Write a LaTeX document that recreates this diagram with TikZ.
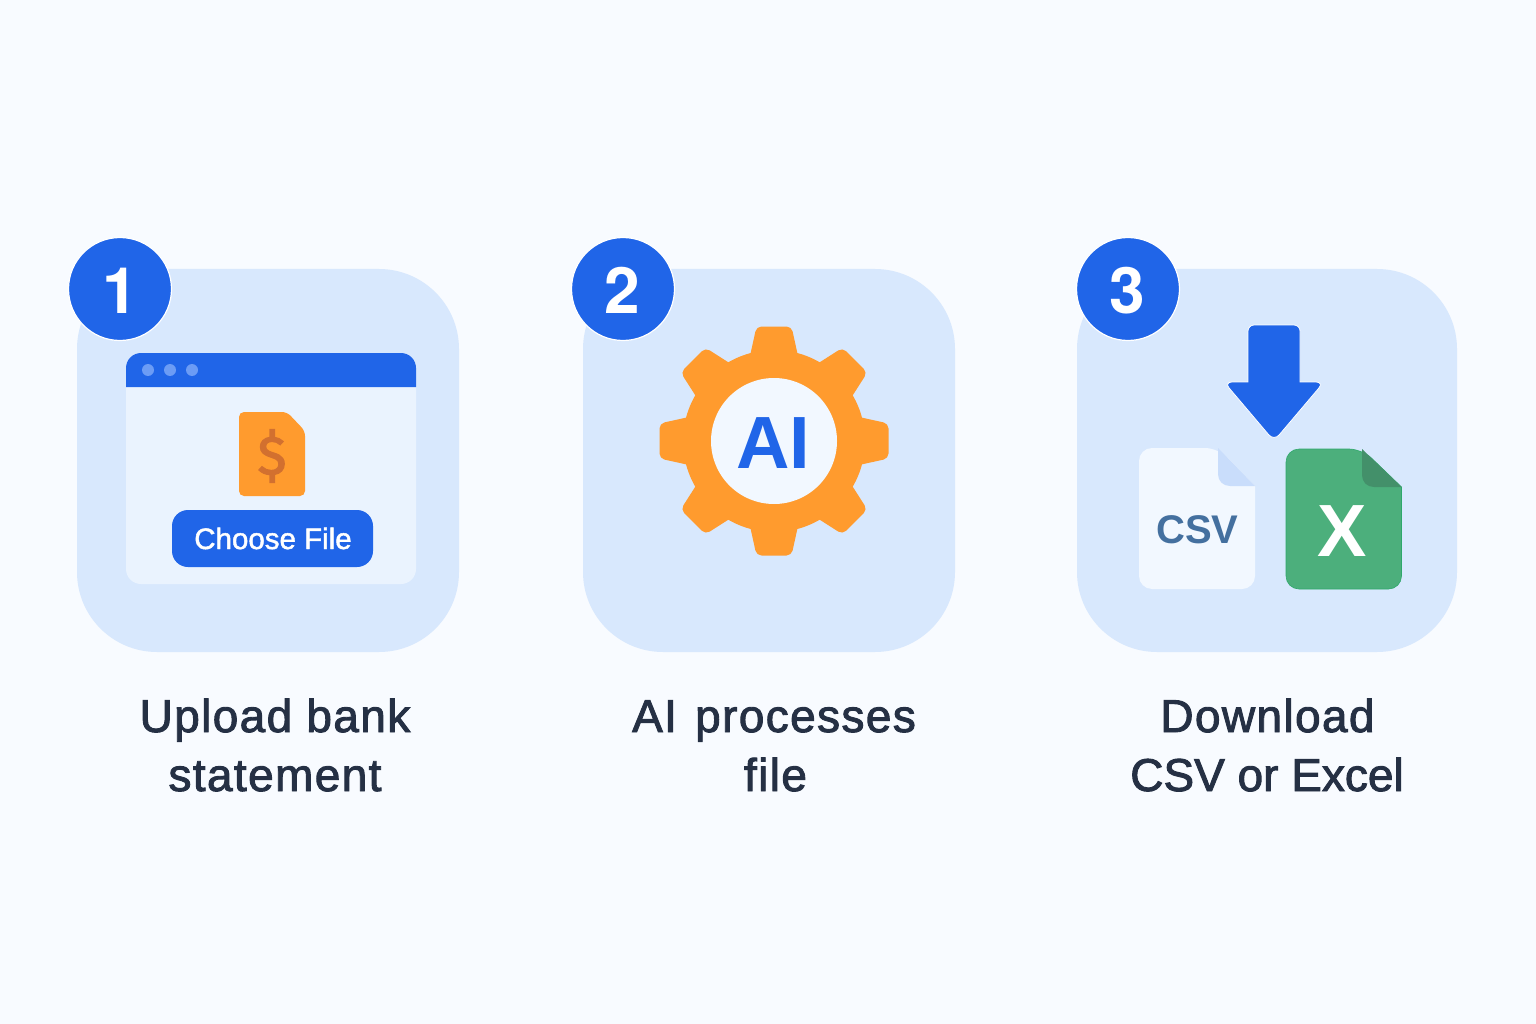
\documentclass[tikz,border=0pt]{standalone}
\usepackage{fontspec}
\setmainfont{Liberation Sans}
\newfontfamily\capfont[FakeBold=2,LetterSpace=3]{Liberation Sans}
\newfontfamily\capfontb[FakeBold=2]{Liberation Sans}
\newfontfamily\btnfont[FakeBold=1.6]{Liberation Sans}
\newfontfamily\numfont{TeX Gyre Heros}
\newfontfamily\dollarfont[FakeBold=2.5]{Fira Sans}
\definecolor{bgc}{HTML}{F8FBFF}
\definecolor{panelc}{HTML}{D8E8FD}
\definecolor{blue1}{HTML}{2065E8}
\definecolor{winc}{HTML}{EAF3FE}
\definecolor{dotc}{HTML}{6C9CF5}
\definecolor{orangec}{HTML}{FF9B2E}
\definecolor{dollarc}{HTML}{D2702F}
\definecolor{inkc}{HTML}{253044}
\definecolor{paperc}{HTML}{F2F8FF}
\definecolor{foldc}{HTML}{C9DDFB}
\definecolor{csvc}{HTML}{44709F}
\definecolor{greenc}{HTML}{4CAF7C}
\definecolor{greenl}{HTML}{2FA86B}
\definecolor{foldg}{HTML}{43906A}
\newcommand{\fs}[1]{\fontsize{#1}{#1}\selectfont}
\tikzset{
  panel/.style={fill=panelc,rounded corners=80},
  badge/.style={circle,fill=blue1,draw=white,line width=1.2,minimum size=103,inner sep=0},
  badgetxt/.style={text=white,font=\numfont\fs{64}\bfseries,anchor=base,inner sep=0},
  caption/.style={text=inkc,font=\capfont\fs{46},anchor=base,inner sep=0},
  captionb/.style={text=inkc,font=\capfontb\fs{46},anchor=base,inner sep=0},
  gearpart/.style={fill=orangec},
}
\begin{document}
\begin{tikzpicture}[x=1pt,y=-1pt]
\useasboundingbox (0,0) rectangle (1536,1024);
\fill[bgc] (0,0) rectangle (1536,1024);
% panels
\fill[panel] (77,269) rectangle (459,652);
\fill[panel] (583,269) rectangle (955,652);
\fill[panel] (1077,269) rectangle (1457,652);
% window
\fill[winc,rounded corners=15] (126,353) rectangle (416,584);
\fill[blue1] (126,387) -- (126,368) [rounded corners=15] -- (126,353) -- (416,353) [sharp corners] -- (416,368) -- (416,387) -- cycle;
\foreach \x in {148,170,192} \fill[dotc] (\x,370) circle[radius=6];
% statement document
\fill[orangec,rounded corners=5] (239,412) -- (287,412) -- (305,431) -- (305,496) -- (239,496) -- cycle;
\node[text=dollarc,font=\dollarfont\fs{54},anchor=base,inner sep=0] (dollar) at (272,474) {\$};
% button
\fill[blue1,rounded corners=16] (172,510) rectangle (373,567);
\node[text=white,font=\btnfont\fs{29.5},anchor=base,inner sep=0] (choose) at (273,549) {Choose File};
% gear
\begin{scope}[shift={(774,441)}]
  \fill[gearpart] (0,0) circle[radius=91];
  \foreach \a in {0,45,...,315}
    \fill[gearpart,rotate=\a,rounded corners=5] (-26.2,-75) -- (-17.5,-114.5) -- (17.5,-114.5) -- (26.2,-75) -- cycle;
  \fill[paperc] (0,0) circle[radius=63];
\end{scope}
\node[text=blue1,font=\fs{74}\bfseries,anchor=base,inner sep=0] (ai) at (773,468) {AI};
% arrow
\fill[blue1,draw=white,line width=0.8,rounded corners=6] (1248,340) -- (1248,325) -- (1300,325) -- (1300,370) [sharp corners] -- (1300,382) [rounded corners=8] -- (1324,382) -- (1274,441) -- (1224,382) [sharp corners] -- (1248,382) -- cycle;
% csv document
\fill[paperc,rounded corners=13] (1139,448) -- (1218,448) [sharp corners] -- (1255,486) [rounded corners=13] -- (1255,589) -- (1139,589) -- cycle;
\fill[foldc] (1218,448) -- (1255,486) -- (1230,486) .. controls (1223,486) and (1218,481) .. (1218,474) -- cycle;
\node[text=csvc,font=\fs{40}\bfseries,anchor=base,inner sep=0] (csv) at (1197.5,543.5) {CSV};
% excel document
\fill[greenc,draw=greenl,line width=0.6,rounded corners=13] (1286,449) -- (1362,449) [sharp corners] -- (1401.5,487) [rounded corners=13] -- (1401.5,589) -- (1286,589) -- cycle;
\fill[foldg] (1362,449) -- (1401.5,487) -- (1374,487) .. controls (1367,487) and (1362,482) .. (1362,475) -- cycle;
\node[text=white,font=\fs{74}\bfseries,anchor=base,inner sep=0] (xl) at (1342.5,556) {X};
% badges
\node[badge] (b1) at (120,289) {};
\node[badge] (b2) at (623,289) {};
\node[badge] (b3) at (1128,289) {};
\node[badgetxt] (n1) at (120.5,313) {1};
\node[badgetxt] (n2) at (622,313) {2};
\node[badgetxt] (n3) at (1127,313) {3};
% captions
\node[caption] (c1a) at (275,732) {Upload bank};
\node[caption] (c1b) at (275,791) {statement};
\node[caption] (c2a) at (774,732) {AI\hspace{4pt} processes};
\node[caption] (c2b) at (775.5,791) {file};
\node[caption] (c3a) at (1267.5,732) {Download};
\node[captionb] (c3b) at (1267,791) {CSV or Excel};
\end{tikzpicture}
\end{document}
